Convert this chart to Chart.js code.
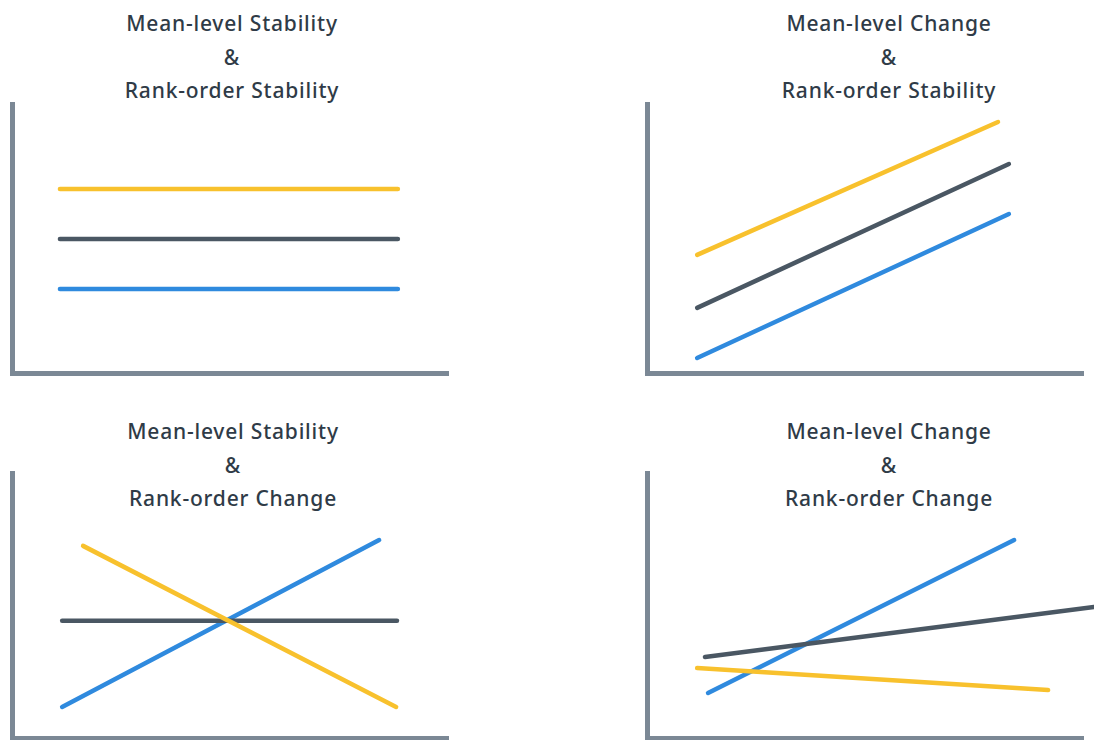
<!DOCTYPE html>
<html>
<head>
<meta charset="utf-8">
<script src="https://cdn.jsdelivr.net/npm/chart.js@4"></script>
<style>
  html, body { margin: 0; padding: 0; background: #ffffff; }
  body { width: 1094px; height: 740px; position: relative; overflow: hidden; }
  .panel { position: absolute; }
  .title {
    position: absolute; width: 440px; text-align: center;
    font-family: "Noto Sans", sans-serif; font-weight: 500; font-size: 21px;
    letter-spacing: 0.8px;
    line-height: 33.5px; color: #2f3b47; white-space: nowrap;
  }
</style>
</head>
<body>
<div class="title" id="t1" style="left:12px; top:7px;"></div>
<div class="title" id="t2" style="left:669px; top:7px;"></div>
<div class="title" id="t3" style="left:13px; top:415px;"></div>
<div class="title" id="t4" style="left:669px; top:415px;"></div>

<div class="panel" style="left:0px; top:0px; width:547px; height:385px;"><canvas id="c1"></canvas></div>
<div class="panel" style="left:547px; top:0px; width:547px; height:385px;"><canvas id="c2"></canvas></div>
<div class="panel" style="left:0px; top:390px; width:547px; height:350px;"><canvas id="c3"></canvas></div>
<div class="panel" style="left:547px; top:390px; width:547px; height:350px;"><canvas id="c4"></canvas></div>

<script>
// ---- Titles ----
const titles = [
  ["Mean-level Stability", "&", "Rank-order Stability"],
  ["Mean-level Change", "&", "Rank-order Stability"],
  ["Mean-level Stability", "&", "Rank-order Change"],
  ["Mean-level Change", "&", "Rank-order Change"]
];

// ---- Data (x, y on 0-100 axes) ----
// Panel 1: mean-level stability & rank-order stability
const p1Yellow = [{x: 11.0, y: 68.4}, {x: 88.5, y: 68.4}];
const p1Gray   = [{x: 11.0, y: 49.8}, {x: 88.5, y: 49.8}];
const p1Blue   = [{x: 11.0, y: 31.2}, {x: 88.5, y: 31.2}];
// Panel 2: mean-level change & rank-order stability
const p2Yellow = [{x: 11.5, y: 43.9}, {x: 80.5, y: 93.3}];
const p2Gray   = [{x: 11.5, y: 24.2}, {x: 83.0, y: 77.7}];
const p2Blue   = [{x: 11.5, y: 5.6},  {x: 83.0, y: 59.1}];
// Panel 3: mean-level stability & rank-order change
const p3Yellow = [{x: 16.3, y: 72.5}, {x: 88.1, y: 11.7}];
const p3Gray   = [{x: 11.5, y: 44.2}, {x: 88.3, y: 44.2}];
const p3Blue   = [{x: 11.5, y: 11.7}, {x: 84.2, y: 74.7}];
// Panel 4: mean-level change & rank-order change
const p4Yellow = [{x: 11.5, y: 26.4}, {x: 92.0, y: 18.1}];
const p4Gray   = [{x: 13.3, y: 30.6}, {x: 102.5, y: 49.4}];
const p4Blue   = [{x: 14.0, y: 17.0}, {x: 84.2, y: 74.7}];

const YELLOW = "#f8c12d";
const GRAY = "#4a5763";
const BLUE = "#2f8ade";
const AXIS = "#7b8895";

titles.forEach((t, i) => {
  document.getElementById("t" + (i + 1)).innerHTML = t.join("<br>");
});

function ds(data, color) {
  return {
    data: data, borderColor: color, backgroundColor: color,
    borderWidth: 4.5, borderCapStyle: "round", showLine: true,
    pointRadius: 0, pointHoverRadius: 0, clip: false, tension: 0
  };
}

function makeChart(id, series, padding) {
  new Chart(document.getElementById(id), {
    type: "scatter",
    data: { datasets: series },
    options: {
      responsive: true, maintainAspectRatio: false, animation: false,
      layout: { padding: padding },
      plugins: { legend: { display: false }, tooltip: { enabled: false }, title: { display: false } },
      events: [],
      scales: {
        x: {
          type: "linear", min: 0, max: 100,
          ticks: { display: false },
          grid: { display: false, drawTicks: false },
          border: { display: true, color: AXIS, width: 5 }
        },
        y: {
          type: "linear", min: 0, max: 100,
          ticks: { display: false },
          grid: { display: false, drawTicks: false },
          border: { display: true, color: AXIS, width: 5 }
        }
      }
    }
  });
}

makeChart("c1", [ds(p1Yellow, YELLOW), ds(p1Gray, GRAY), ds(p1Blue, BLUE)],
  { left: 12, right: 99, top: 104, bottom: 12 });
makeChart("c2", [ds(p2Yellow, YELLOW), ds(p2Gray, GRAY), ds(p2Blue, BLUE)],
  { left: 100, right: 11, top: 104, bottom: 12 });
makeChart("c3", [ds(p3Yellow, YELLOW), ds(p3Gray, GRAY), ds(p3Blue, BLUE)],
  { left: 12, right: 99, top: 83, bottom: 2 });
makeChart("c4", [ds(p4Yellow, YELLOW), ds(p4Gray, GRAY), ds(p4Blue, BLUE)],
  { left: 100, right: 11, top: 83, bottom: 2 });
</script>
</body>
</html>
